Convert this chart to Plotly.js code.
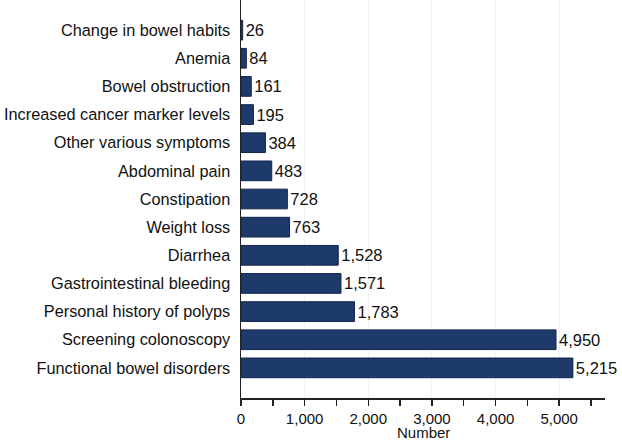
<!DOCTYPE html>
<html>
<head>
<meta charset="utf-8">
<script src="https://cdn.plot.ly/plotly-3.0.1.min.js"></script>
<style>html,body{margin:0;padding:0;background:#fff;}#chart{width:622px;height:441px;}</style>
</head>
<body>
<div id="chart"></div>
<script>
const categories = [
  "Change in bowel habits",
  "Anemia",
  "Bowel obstruction",
  "Increased cancer marker levels",
  "Other various symptoms",
  "Abdominal pain",
  "Constipation",
  "Weight loss",
  "Diarrhea",
  "Gastrointestinal bleeding",
  "Personal history of polyps",
  "Screening colonoscopy",
  "Functional bowel disorders"
];
const counts = [26, 84, 161, 195, 384, 483, 728, 763, 1528, 1571, 1783, 4950, 5215];
const xTitle = "Number";

const trace = {
  type: "bar",
  orientation: "h",
  x: counts,
  y: categories,
  width: 0.7,
  marker: {color: "#1d3a6b", line: {color: "#12244a", width: 1}},
  texttemplate: "%{x:,d}",
  textposition: "outside",
  cliponaxis: false,
  textfont: {family: "Liberation Sans, Arial, sans-serif", size: 16.5, color: "#111"},
  hoverinfo: "none"
};

const layout = {
  width: 622, height: 441,
  margin: {l: 241, r: 17, t: 0, b: 43},
  paper_bgcolor: "#fff", plot_bgcolor: "#fff",
  showlegend: false,
  font: {family: "Liberation Sans, Arial, sans-serif", size: 16, color: "#111"},
  xaxis: {
    range: [0, 5720],
    dtick: 1000,
    tick0: 0,
    tickformat: ",d",
    ticks: "outside", ticklen: 6, tickcolor: "#222", tickwidth: 1.5,
    showline: true, linecolor: "#222", linewidth: 1.5,
    showgrid: true, gridcolor: "#f2f2f2", gridwidth: 1,
    zeroline: false,
    automargin: false,
    minor: {dtick: 500, ticks: "outside", ticklen: 6, tickcolor: "#222", tickwidth: 1.5, showgrid: false},
    tickfont: {size: 15, color: "#111"}
  },
  yaxis: {
    type: "category",
    categoryorder: "array",
    categoryarray: categories,
    range: [13.07, -1.07],
    showline: true, linecolor: "#222", linewidth: 1.5,
    ticks: "", showgrid: false, zeroline: false,
    automargin: false,
    ticklabelstandoff: 6,
    tickfont: {size: 16.3, color: "#111"}
  },
  annotations: [{
    text: xTitle,
    xref: "paper", yref: "paper",
    x: 0.5, y: -43 / 398,
    xanchor: "center", yanchor: "bottom",
    showarrow: false, borderpad: 0, yshift: -1,
    font: {size: 15, color: "#111"}
  }]
};

Plotly.newPlot("chart", [trace], layout, {staticPlot: true, displayModeBar: false});
</script>
</body>
</html>
